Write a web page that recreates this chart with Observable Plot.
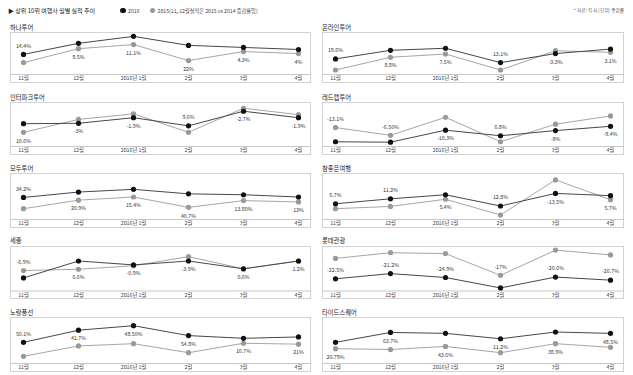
<!DOCTYPE html>
<html><head><meta charset="utf-8">
<script src="https://cdn.jsdelivr.net/npm/d3@7"></script>
<script src="https://cdn.jsdelivr.net/npm/@observablehq/plot@0.6"></script>
<style>
body{margin:0;background:#fff;font-family:"Noto Sans CJK KR","Noto Sans",sans-serif;}
#root{position:relative;width:633px;height:375px;overflow:hidden;background:#fff;}
.abs{position:absolute;white-space:nowrap;line-height:1;}
.box{position:absolute;border:1px solid #d2d2d2;background:#fff;}
.box svg{display:block;overflow:visible;}
.ptitle{font-size:6.3px;color:#222;}
</style></head><body><div id="root"></div>
<script>
const months = ["11월","12월","2016년 1월","2월","3월","4월"];
const companies = ["하나투어","온라인투어","인터파크투어","레드캡투어","모두투어","참좋은여행","세중","롯데관광","노랑풍선","타이드스퀘어"];
// relative level of each line (0 = bottom of panel, 100 = top)
const series2016 = [
  [49,76,93,71,66,61],
  [38,59,64,29,51,62],
  [53,54,67,48,82,67],
  [11,10,38,25,37,47],
  [49,61,67,57,55,50],
  [35,46,55,30,58,53],
  [30,69,60,69,51,69],
  [28,40,31,7,32,25],
  [47,74,84,62,56,59],
  [47,69,67,55,70,67]
];
const series2015 = [
  [29,63,73,34,56,51],
  [11,42,50,11,58,54],
  [33,63,76,33,89,74],
  [44,26,68,11,52,71],
  [24,43,50,27,42,39],
  [24,29,45,10,88,44],
  [47,50,58,79,51,69],
  [75,88,86,36,94,83],
  [16,39,44,24,45,43],
  [33,31,38,24,44,36]
];
const growthLabels = [
  ["14.4%","8.5%","11.1%","22%","4.3%","4%"],
  ["19.6%","8.8%","7.5%","13.1%","-3.3%","3.1%"],
  ["10.6%","-3%","-1.9%","9.6%","-2.7%","-1.9%"],
  ["-13.1%","-6.50%","-10.3%","6.8%","-8%","-9.4%"],
  ["34.2%","20.9%","15.4%","40.7%","13.80%","13%"],
  ["6.7%","11.2%","5.4%","12.8%","-13.5%","5.7%"],
  ["-6.9%","6.6%","-0.9%","-3.9%","0.6%","1.2%"],
  ["-22.5%","-21.2%","-24.9%","-17%","-20.6%","-26.7%"],
  ["50.1%","41.7%","48.50%","54.8%","10.7%","21%"],
  ["20.79%","63.7%","43.6%","11.2%","38.9%","48.5%"]
];
// which series each label belongs to
const labelSeries = [
  ["2016","2015","2015","2015","2015","2015"],
  ["2016","2015","2015","2016","2016","2015"],
  ["2015","2016","2016","2016","2016","2016"],
  ["2015","2015","2016","2016","2016","2016"],
  ["2016","2015","2015","2015","2015","2015"],
  ["2016","2016","2015","2016","2016","2015"],
  ["2015","2015","2016","2016","2016","2016"],
  ["2016","2016","2016","2015","2016","2016"],
  ["2016","2016","2016","2016","2015","2015"],
  ["2015","2016","2015","2016","2015","2016"]
];
const labelAbove = [
  [1,0,0,0,0,0],
  [1,0,0,1,0,0],
  [0,0,0,1,0,0],
  [1,1,0,1,0,0],
  [1,0,0,0,0,0],
  [1,1,0,1,0,0],
  [1,0,0,0,0,0],
  [1,1,1,1,1,1],
  [1,0,0,0,0,0],
  [0,0,0,0,0,0]
];

const root = document.getElementById("root");
function addText(txt, x, y, size, color, extra){
  const d = document.createElement("div");
  d.className = "abs";
  d.textContent = txt;
  d.style.left = x + "px"; d.style.top = y + "px";
  d.style.fontSize = size + "px"; d.style.color = color;
  if (extra) Object.assign(d.style, extra);
  root.appendChild(d);
  return d;
}
function addDot(x, y, r, color){
  const d = document.createElement("div");
  d.className = "abs";
  Object.assign(d.style, {left:(x-r)+"px", top:(y-r)+"px", width:2*r+"px", height:2*r+"px", borderRadius:"50%", background:color});
  root.appendChild(d);
}
// header
addText("▶ 상위 10위 여행사 월별 실적 추이", 8, 7.5, 6, "#222");
addDot(123, 10.3, 2.6, "#111");
addText("2016", 128, 8, 5.2, "#444");
addDot(152.7, 10.3, 2.6, "#999");
addText("2015(11, 12월실적은 2015 vs 2014 증감률임)", 157.5, 8, 5.2, "#444");
addText("* 자료: 각 사 | 단위: 증감률", 0, 8, 4.6, "#555", {left:"auto", right:"9px"});

const colLeft = [10, 322];
const colWidth = [299, 300];
const rowTop = [32, 102, 173, 245.5, 317];
const plotH = [41, 43, 45, 43.5, 45];
const axisH = 8;

companies.forEach((name, i) => {
  const col = i % 2, row = Math.floor(i / 2);
  const W = colWidth[col], H = plotH[row] + axisH;
  addText(name, colLeft[col], rowTop[row] - 7.5, 6.3, "#222");
  const s16 = months.map((m, j) => ({month: m, v: series2016[i][j]}));
  const s15 = months.map((m, j) => ({month: m, v: series2015[i][j]}));
  const labs = months.map((m, j) => ({
    month: m, text: growthLabels[i][j],
    v: (labelSeries[i][j] === "2016" ? series2016 : series2015)[i][j],
    above: labelAbove[i][j] === 1
  }));
  const plot = Plot.plot({
    width: W, height: H,
    marginTop: 0, marginBottom: axisH, marginLeft: 0, marginRight: 0,
    x: {type: "point", domain: months, padding: 0, insetLeft: 10.5, insetRight: 11, label: null},
    y: {domain: [0, 100], axis: null},
    style: {fontFamily: "'Noto Sans CJK KR', sans-serif", fontSize: "5.3px", color: "#444", background: "transparent", overflow: "visible"},
    marks: [
      Plot.frame({anchor: "bottom", stroke: "#c8c8c8"}),
      Plot.axisX({tickSize: 0, tickPadding: 1.8, fontSize: 5.3, label: null, fill: "#444"}),
      Plot.lineY(s15, {x: "month", y: "v", stroke: "#a6a6a6", strokeWidth: 1}),
      Plot.lineY(s16, {x: "month", y: "v", stroke: "#474747", strokeWidth: 1}),
      Plot.dot(s15, {x: "month", y: "v", r: 2.6, fill: "#999", stroke: "none"}),
      Plot.dot(s16, {x: "month", y: "v", r: 2.6, fill: "#111", stroke: "none"}),
      Plot.text(labs.filter(d => d.above), {x: "month", y: "v", text: "text", dy: -8.5, fontSize: 5.3, fill: "#333"}),
      Plot.text(labs.filter(d => !d.above), {x: "month", y: "v", text: "text", dy: 8.5, fontSize: 5.3, fill: "#333"})
    ]
  });
  const box = document.createElement("div");
  box.className = "box";
  Object.assign(box.style, {left: colLeft[col] + "px", top: rowTop[row] + "px", width: W + "px", height: H + "px"});
  box.appendChild(plot);
  root.appendChild(box);
});
</script></body></html>
